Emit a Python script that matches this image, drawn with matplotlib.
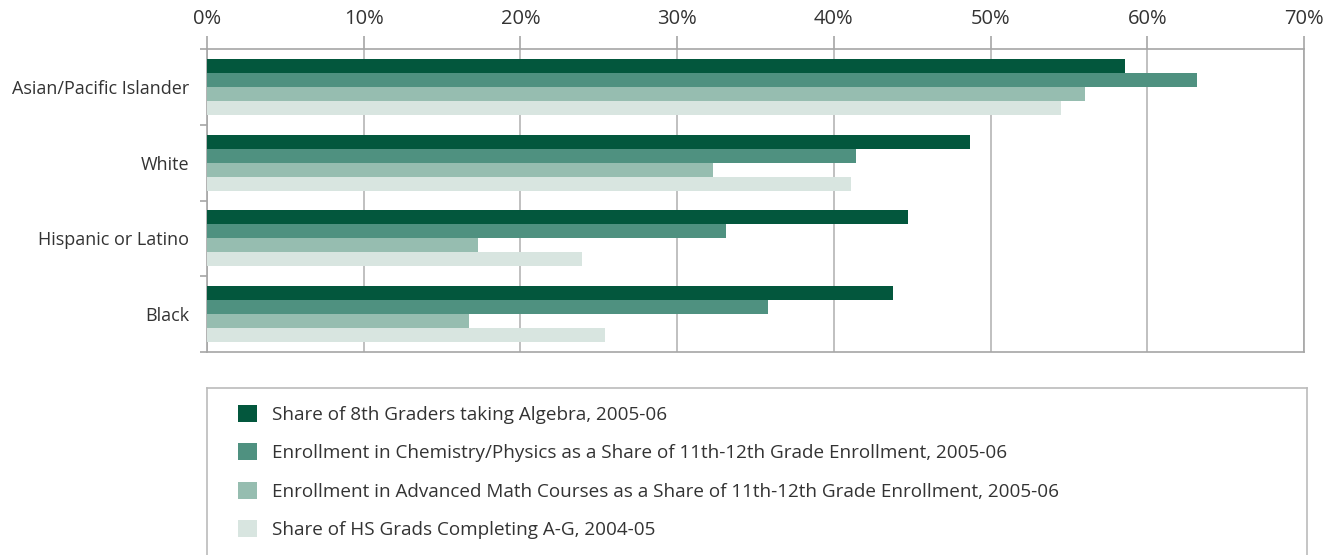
import matplotlib
import numpy as np
from matplotlib.patches import Patch

matplotlib.use("Agg")
import matplotlib.pyplot as plt

# 数据：各族群在不同指标上的占比（%）
groups = ["Asian/Pacific Islander", "White", "Hispanic or Latino", "Black"]
algebra_8th = [58.6, 48.7, 44.7, 43.8]
chem_physics = [63.2, 41.4, 33.1, 35.8]
adv_math = [56.0, 32.3, 17.3, 16.7]
hs_ag = [54.5, 41.1, 23.9, 25.4]

series_labels = [
    "Share of 8th Graders taking Algebra, 2005-06",
    "Enrollment in Chemistry/Physics as a Share of 11th-12th Grade Enrollment, 2005-06",
    "Enrollment in Advanced Math Courses as a Share of 11th-12th Grade Enrollment, 2005-06",
    "Share of HS Grads Completing A-G, 2004-05",
]
colors = ["#03573d", "#4f9180", "#96bdb0", "#d8e5e0"]
x_ticks = [0, 10, 20, 30, 40, 50, 60, 70]

plt.rcParams["font.family"] = ["Open Sans", "DejaVu Sans"]
text_color = "#333333"
line_gray = "#a6a6a6"


def main():
    fig = plt.figure(figsize=(13.43, 5.55), dpi=100)
    ax = fig.add_axes([207 / 1343, 1 - 352 / 555, (1304 - 207) / 1343, (352 - 49) / 555])

    y = np.arange(len(groups))
    h = 0.185
    all_series = [algebra_8th, chem_physics, adv_math, hs_ag]
    for i, (vals, col) in enumerate(zip(all_series, colors)):
        ax.barh(y + (i - 1.5) * h, vals, height=h, color=col, linewidth=0, zorder=3)

    ax.set_xlim(0, 70)
    ax.set_ylim(3.5, -0.5)
    ax.set_xticks(x_ticks)
    ax.set_xticklabels([f"{t}%" for t in x_ticks])
    ax.xaxis.tick_top()
    ax.tick_params(axis="x", which="major", length=9.5, width=1.2, color=line_gray,
                   pad=5, labelsize=14.5, labelcolor=text_color)
    ax.grid(axis="x", color="#b5b5b5", linewidth=1.2, zorder=0)

    ax.set_yticks(y)
    ax.set_yticklabels(groups)
    ax.set_yticks(np.arange(-0.5, len(groups)), minor=True)
    ax.tick_params(axis="y", which="major", length=0, pad=13, labelsize=13, labelcolor=text_color)
    ax.tick_params(axis="y", which="minor", length=5, width=1.2, color=line_gray)

    for s in ax.spines.values():
        s.set_color(line_gray)
        s.set_linewidth(1.2)

    # 图例框：底边落在画布之外
    lax = fig.add_axes([207 / 1343, -0.1, (1307 - 207) / 1343, 0.1 + 1 - 388 / 555])
    lax.set_xticks([])
    lax.set_yticks([])
    for s in lax.spines.values():
        s.set_color("#bbbbbb")
        s.set_linewidth(1.2)
    handles = [Patch(facecolor=c, edgecolor="none") for c in colors]
    lax.legend(handles, series_labels, loc="upper left", bbox_to_anchor=(0.0213, 0.958),
               borderaxespad=0, frameon=False, fontsize=13.6, labelcolor=text_color,
               handlelength=1.0, handleheight=1.0, handletextpad=0.8, labelspacing=1.03)

    fig.savefig("out.png", dpi=100)
    plt.close(fig)


if __name__ == "__main__":
    main()
